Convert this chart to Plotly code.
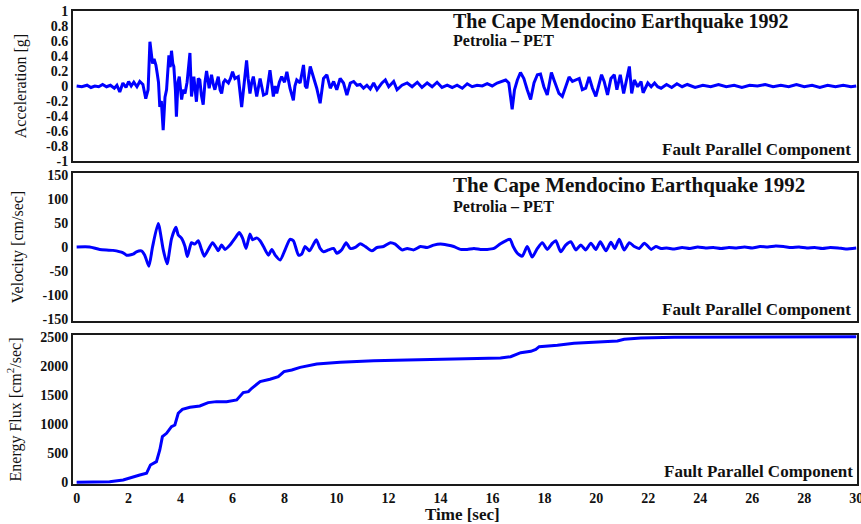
import plotly.graph_objects as go
from plotly.subplots import make_subplots

# ---------------- data ----------------
acc_t = [0.00, 0.20, 0.40, 0.55, 0.70, 0.85, 1.00, 1.15, 1.30, 1.45, 1.55, 1.66, 1.78, 1.90, 2.00,
         2.10, 2.20, 2.32, 2.43, 2.55, 2.66, 2.75, 2.82, 2.88, 2.92, 2.98, 3.05, 3.10, 3.15, 3.20,
         3.26, 3.33, 3.40, 3.46, 3.55, 3.60, 3.65, 3.70, 3.74, 3.80, 3.84, 3.90, 3.95, 4.04, 4.10,
         4.17, 4.25, 4.36, 4.42, 4.51, 4.61, 4.68, 4.74, 4.80, 4.87, 4.94, 5.00, 5.10, 5.19, 5.26,
         5.32, 5.45, 5.52, 5.58, 5.65, 5.71, 5.84, 5.92, 6.00, 6.09, 6.22, 6.35, 6.45, 6.54, 6.60,
         6.67, 6.74, 6.80, 6.93, 7.06, 7.19, 7.31, 7.44, 7.57, 7.64, 7.70, 7.80, 7.89, 8.00, 8.09,
         8.21, 8.34, 8.40, 8.47, 8.60, 8.73, 8.80, 8.86, 8.99, 9.11, 9.24, 9.37, 9.50, 9.63, 9.76,
         9.89, 10.01, 10.14, 10.27, 10.40, 10.53, 10.66, 10.79, 10.91, 11.04, 11.17, 11.30, 11.43,
         11.56, 11.75, 11.88, 12.01, 12.20, 12.33, 12.52, 12.72, 12.91, 13.11, 13.29, 13.49, 13.68,
         13.87, 14.06, 14.26, 14.45, 14.64, 14.84, 15.03, 15.22, 15.41, 15.61, 15.80, 15.99, 16.18,
         16.31, 16.51, 16.63, 16.76, 16.85, 16.96, 17.08, 17.21, 17.34, 17.47, 17.60, 17.73, 17.85,
         17.98, 18.11, 18.27, 18.37, 18.56, 18.69, 18.82, 18.95, 19.08, 19.21, 19.34, 19.46, 19.59,
         19.72, 19.85, 19.98, 20.11, 20.20, 20.30, 20.43, 20.56, 20.69, 20.79, 20.92, 21.05, 21.14,
         21.27, 21.36, 21.46, 21.59, 21.72, 21.80, 21.98, 22.11, 22.24, 22.36, 22.49, 22.70, 22.90,
         23.10, 23.30, 23.50, 23.80, 24.10, 24.40, 24.70, 25.00, 25.30, 25.60, 25.90, 26.20, 26.50,
         26.80, 27.10, 27.40, 27.70, 28.00, 28.30, 28.60, 28.90, 29.20, 29.50, 29.80, 30.00]
acc_g = [0.00, -0.01, 0.01, -0.02, 0.00, -0.01, 0.02, -0.01, 0.01, -0.03, 0.01, -0.08, 0.04, -0.02, 0.06,
         0.00, 0.05, -0.01, 0.06, 0.02, -0.17, -0.05, 0.59, 0.35, 0.30, 0.36, 0.28, 0.17, 0.05, -0.28,
         -0.20, -0.59, -0.15, -0.05, 0.41, 0.25, 0.47, 0.30, 0.26, -0.05, -0.41, 0.05, 0.125, -0.18, -0.05,
         -0.10, 0.05, 0.44, -0.14, 0.125, -0.21, 0.10, 0.08, -0.12, -0.25, 0.05, 0.20, -0.03, 0.15, 0.02,
         -0.05, 0.125, -0.05, -0.10, 0.05, 0.08, 0.04, 0.10, 0.19, 0.10, 0.125, -0.28, 0.05, 0.34, 0.10,
         -0.10, 0.05, 0.125, -0.14, 0.10, -0.12, -0.10, 0.21, -0.14, 0.00, -0.10, 0.05, 0.125, 0.05, 0.19,
         -0.03, -0.19, 0.00, 0.08, 0.04, 0.28, 0.00, -0.03, 0.26, 0.125, -0.03, -0.23, 0.10, 0.15, -0.03,
         0.06, -0.05, 0.10, 0.04, -0.12, 0.04, 0.06, 0.01, 0.02, -0.03, 0.01, -0.04, 0.04,
         -0.05, 0.04, 0.08, -0.01, 0.06, -0.05, 0.01, 0.04, -0.01, 0.05, -0.02, 0.04, -0.01,
         0.05, -0.02, 0.01, -0.02, 0.01, -0.03, 0.03, -0.01, 0.01, 0.00, 0.03, 0.00, 0.04,
         0.06, 0.08, 0.04, -0.31, -0.05, 0.08, 0.18, 0.10, -0.05, -0.18, 0.04, 0.15, 0.16,
         -0.01, -0.12, 0.18, 0.08, -0.10, -0.14, -0.01, 0.12, 0.06, 0.08, 0.10, -0.05, -0.03,
         0.12, -0.03, -0.14, 0.04, 0.15, 0.06, -0.12, 0.10, 0.15, -0.05, 0.15, -0.10, 0.04,
         0.26, -0.10, 0.08, -0.01, 0.06, -0.09, 0.04, -0.01, 0.04, -0.01, -0.03, 0.02, -0.02,
         0.03, -0.01, 0.02, -0.02, 0.01, -0.01, 0.02, -0.01, 0.01, -0.02, 0.01, 0.00, 0.02,
         -0.01, 0.01, -0.01, 0.02, -0.01, 0.01, -0.02, 0.01, -0.01, 0.01, -0.01, 0.00]

vel_t = [0.00, 0.50, 0.89, 1.40, 1.79, 1.92, 2.17, 2.30, 2.49, 2.62, 2.78, 2.92, 3.14, 3.33, 3.48,
         3.65, 3.82, 3.91, 4.04, 4.17, 4.26, 4.42, 4.55, 4.68, 4.81, 4.91, 5.07, 5.23, 5.39, 5.45,
         5.58, 5.71, 5.90, 6.09, 6.26, 6.39, 6.52, 6.67, 6.77, 6.93, 7.06, 7.19, 7.38, 7.51, 7.64,
         7.83, 8.02, 8.21, 8.34, 8.54, 8.66, 8.79, 8.96, 9.22, 9.37, 9.50, 9.69, 9.89, 10.01, 10.21,
         10.37, 10.53, 10.72, 10.91, 11.11, 11.36, 11.56, 11.81, 12.07, 12.26, 12.52, 12.72, 12.97,
         13.23, 13.49, 13.74, 14.00, 14.26, 14.51, 14.77, 15.03, 15.29, 15.54, 15.80, 16.06, 16.31,
         16.51, 16.68, 16.80, 16.96, 17.15, 17.34, 17.53, 17.73, 17.92, 18.11, 18.31, 18.44, 18.63,
         18.82, 19.02, 19.21, 19.40, 19.59, 19.79, 19.98, 20.15, 20.37, 20.56, 20.71, 20.88, 21.07,
         21.27, 21.46, 21.65, 21.85, 22.11, 22.29, 22.49, 22.70, 23.00, 23.30, 23.60, 23.90, 24.20,
         24.50, 24.80, 25.10, 25.40, 25.70, 26.00, 26.30, 26.60, 26.90, 27.20, 27.50, 27.80, 28.10,
         28.40, 28.70, 29.00, 29.30, 29.60, 30.00]
vel_cms = [0, 0, -5, -7, -12, -17, -15, -10, -8, -17, -40, 0, 49, -5, -35,
           17, 41, 25, 18, 1, -20, 9, 6, 13, -6, -19, -5, 9, -3, -8,
           4, -5, 4, 18, 30, 18, -3, 27, 15, 19, 13, 1, -17, -5, -17,
           -27, -6, 16, 13, -17, -15, 1, -8, 15, -3, -10, -6, -3, -13, -5,
           9, -3, -1, 7, 1, -8, -1, 1, 9, 6, -6, -3, -6,
           1, -1, 4, 6, 4, 1, -5, -5, -3, -5, -5, -3, 7,
           13, 16, 1, -13, -19, 1, -21, -3, 9, -5, 8, 13, -10,
           4, 11, -6, 4, -6, 8, -5, 11, -8, 10, -3, 16, -6,
           9, 1, -3, 8, -5, 1, -3, -2, -4, -1, -3, 0, -2,
           -1, -3, -1, -2, 0, -2, 1, 0, 2, 1, -1, 0, -2,
           -1, -3, -1, -2, -4, -2]

ene_t = [0.00, 1.27, 1.79, 2.17, 2.43, 2.69, 2.84, 3.07, 3.20, 3.30, 3.46, 3.65, 3.78, 3.91, 4.07,
         4.36, 4.74, 5.06, 5.38, 5.77, 6.16, 6.41, 6.61, 6.74, 7.06, 7.44, 7.76, 7.98, 8.28, 8.60,
         9.24, 10.14, 11.43, 12.72, 14.00, 15.29, 16.31, 16.70, 17.09, 17.48, 17.67, 17.80, 18.50,
         19.14, 19.79, 20.81, 21.07, 21.71, 22.99, 24.40, 27.00, 30.00]
ene_flux = [0, 11, 40, 97, 126, 155, 298, 355, 555, 784, 841, 956, 984, 1185, 1253,
            1288, 1311, 1368, 1385, 1385, 1414, 1540, 1557, 1614, 1728, 1769, 1814, 1900, 1929, 1974,
            2031, 2060, 2088, 2100, 2111, 2123, 2134, 2157, 2226, 2249, 2283, 2329, 2352,
            2386, 2403, 2426, 2455, 2478, 2489, 2490, 2494, 2497]

x_ticks = [0, 2, 4, 6, 8, 10, 12, 14, 16, 18, 20, 22, 24, 26, 28, 30]
x_ticktext = ["0", "2", "4", "6", "8", "10", "12", "14", "16", "18", "20", "22", "24", "26", "28", "30"]
acc_ticks = [1, 0.8, 0.6, 0.4, 0.2, 0, -0.2, -0.4, -0.6, -0.8, -1]
acc_ticktext = ["1", "0.8", "0.6", "0.4", "0.2", "0", "-0.2", "-0.4", "-0.6", "-0.8", "-1"]
vel_ticks = [150, 100, 50, 0, -50, -100, -150]
vel_ticktext = ["150", "100", "50", "0", "-50", "-100", "-150"]
ene_ticks = [0, 500, 1000, 1500, 2000, 2500]
ene_ticktext = ["0", "500", "1000", "1500", "2000", "2500"]

title_text = "The Cape Mendocino Earthquake 1992"
station_text = "Petrolia \u2013 PET"
comp_text = "Fault Parallel Component"

# ---------------- figure ----------------
SERIF = "Liberation Serif, Times New Roman, serif"
BLUE = "#0000ff"
INK = "#111111"


def bold(labels):
    return ["<b>%s</b>" % s for s in labels]


fig = make_subplots(rows=3, cols=1, shared_xaxes=False, vertical_spacing=0.03)

fig.add_trace(go.Scatter(x=acc_t, y=acc_g, mode="lines", line=dict(color=BLUE, width=3),
                         showlegend=False), row=1, col=1)
fig.add_trace(go.Scatter(x=vel_t, y=vel_cms, mode="lines",
                         line=dict(color=BLUE, width=3, shape="spline", smoothing=0.6),
                         showlegend=False), row=2, col=1)
fig.add_trace(go.Scatter(x=ene_t, y=ene_flux, mode="lines", line=dict(color=BLUE, width=3),
                         showlegend=False), row=3, col=1)

tickfont = dict(family=SERIF, size=14, color=INK)
axis_common = dict(showgrid=False, zeroline=False, showline=True, mirror=True,
                   linecolor="#1a1a1a", linewidth=2, ticks="", tickfont=tickfont,
                   automargin=False)

for i, name in enumerate(["xaxis", "xaxis2", "xaxis3"]):
    fig.layout[name].update(range=[-0.14, 30.03], tickvals=x_ticks, ticktext=bold(x_ticktext),
                            showticklabels=(i == 2), ticklabeloverflow="allow", **axis_common)

ytitle_font = dict(family=SERIF, size=16, color=INK)
fig.layout.yaxis.update(domain=[0.6829, 1.0], range=[-1.0, 1.0], tickvals=acc_ticks,
                        ticktext=bold(acc_ticktext), **axis_common,
                        title=dict(text="Acceleration [g]", font=ytitle_font))
fig.layout.yaxis2.update(domain=[0.3446, 0.6575], range=[-154, 154], tickvals=vel_ticks,
                         ticktext=bold(vel_ticktext), **axis_common,
                         title=dict(text="Velocity [cm/sec]", font=ytitle_font))
fig.layout.yaxis3.update(domain=[0.0, 0.315], range=[-29, 2529], tickvals=ene_ticks,
                         ticktext=bold(ene_ticktext), **axis_common,
                         title=dict(text="Energy Flux [cm<sup>2</sup>/sec]", font=ytitle_font))

ann = []
for ytitle, ystation, tsize in [(0.9785, 0.9375, 20), (0.632, 0.586, 21)]:
    ann.append(dict(text="<b>%s</b>" % title_text, xref="paper", yref="paper", x=0.4818, y=ytitle,
                    xanchor="left", yanchor="middle", showarrow=False,
                    font=dict(family=SERIF, size=tsize, color=INK)))
    ann.append(dict(text="<b>%s</b>" % station_text, xref="paper", yref="paper", x=0.4818, y=ystation,
                    xanchor="left", yanchor="middle", showarrow=False,
                    font=dict(family=SERIF, size=16, color=INK)))
for xr, yc in [(0.9949, 0.7072), (0.9949, 0.3679), (0.9974, 0.0254)]:
    ann.append(dict(text="<b>%s</b>" % comp_text, xref="paper", yref="paper", x=xr, y=yc,
                    xanchor="right", yanchor="middle", showarrow=False,
                    font=dict(family=SERIF, size=17, color=INK)))
ann.append(dict(text="<b>Time [sec]</b>", xref="paper", yref="paper", x=0.497, y=-0.0655,
                xanchor="center", yanchor="middle", showarrow=False,
                font=dict(family=SERIF, size=17, color=INK)))

fig.update_layout(width=861, height=524, margin=dict(l=73, r=4, t=11, b=40),
                  paper_bgcolor="white", plot_bgcolor="white", annotations=ann)

fig.write_html("out.html")
